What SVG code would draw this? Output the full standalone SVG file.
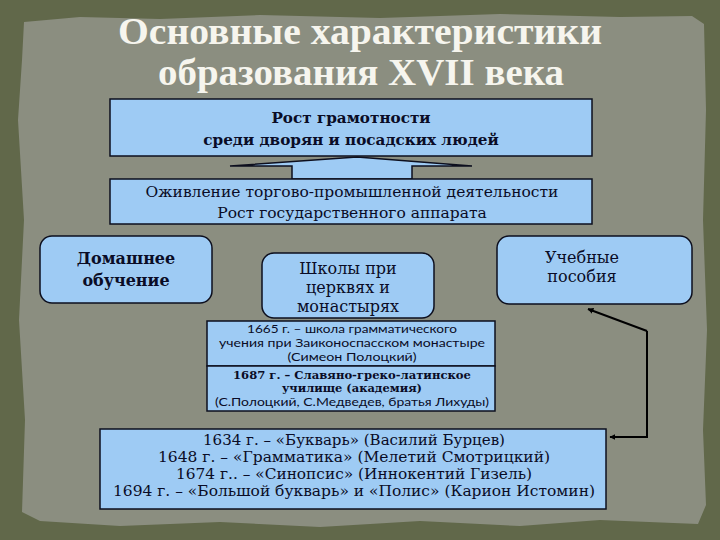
<svg xmlns="http://www.w3.org/2000/svg" width="720" height="540" viewBox="0 0 720 540">
<defs>
<style>
.box{fill:#9ecbf4;stroke:#0d0f1e;stroke-width:1.5}
.t{font-family:"DejaVu Serif","Liberation Serif",serif;fill:#0a0c26;text-anchor:middle}
.b{font-weight:bold}
.s{font-family:Lato,"Liberation Sans",sans-serif;fill:#0a0c26;text-anchor:middle}
.title{font-family:"Liberation Serif",serif;font-weight:bold;fill:#f6f5ee;text-anchor:middle;font-size:38px}
.con{fill:none;stroke:#000;stroke-width:2}
</style>
<marker id="ah" viewBox="0 0 10 10" refX="9" refY="5" markerWidth="6" markerHeight="6" orient="auto" markerUnits="userSpaceOnUse">
<path d="M0,0 L10,5 L0,10 Z" fill="#000"/>
</marker>
</defs>
<rect width="720" height="540" fill="#61684a"/>
<path d="M24,22 L80,17 L160,19 L260,15 L380,18 L500,14 L620,17 L692,16 L704,24 L706,110 L703,220 L707,330 L703,430 L706,505 L698,524 L600,520 L520,526 L420,521 L320,527 L220,522 L120,526 L40,521 L22,512 L25,420 L19,320 L24,220 L18,120 L22,60 Z" fill="#8b8e80"/>
<g id="title">
<text class="title" x="360" y="44" textLength="484" lengthAdjust="spacingAndGlyphs">Основные характеристики</text>
<text class="title" x="361" y="85" textLength="406" lengthAdjust="spacingAndGlyphs">образования XVII века</text>
</g>
<g id="connectors">
<path d="M230,166 L357,157 L472,166 L412,166 L412,179 L292,179 L292,166 Z" fill="#9ecbf4" stroke="#0d0f1e" stroke-width="1.5"/>
<path class="con" d="M647,331 L588,309" marker-end="url(#ah)"/>
<path class="con" d="M647,331 V437 H610" marker-end="url(#ah)"/>
</g>
<g id="n1">
<rect class="box" x="110" y="99" width="482" height="57"/>
<text class="t b" x="351" y="123" font-size="15.2">Рост грамотности</text>
<text class="t b" x="351" y="145" font-size="15.2">среди дворян и посадских людей</text>
</g>
<g id="n2">
<rect class="box" x="110" y="179" width="482" height="45"/>
<text class="t" x="352" y="197" font-size="15.5">Оживление торгово-промышленной деятельности</text>
<text class="t" x="352" y="218" font-size="15.5">Рост государственного аппарата</text>
</g>
<g id="n3">
<rect class="box" x="40" y="236" width="172" height="67" rx="12"/>
<text class="t b" x="126" y="264" font-size="16">Домашнее</text>
<text class="t b" x="126" y="286" font-size="16">обучение</text>
</g>
<g id="n4">
<rect class="box" x="262" y="253" width="172" height="65" rx="12"/>
<text class="t" x="348" y="274" font-size="16">Школы при</text>
<text class="t" x="348" y="293" font-size="16">церквях и</text>
<text class="t" x="348" y="312" font-size="16">монастырях</text>
</g>
<g id="n5">
<rect class="box" x="497" y="236" width="195" height="68" rx="12"/>
<text class="t" x="582" y="263" font-size="16">Учебные</text>
<text class="t" x="582" y="282" font-size="16">пособия</text>
</g>
<g id="n6">
<rect class="box" x="207" y="321" width="288" height="45"/>
<text class="s" x="352" y="333" font-size="12" textLength="210" lengthAdjust="spacingAndGlyphs">1665 г. – школа грамматического</text>
<text class="s" x="352" y="347" font-size="12" textLength="266" lengthAdjust="spacingAndGlyphs">учения при Заиконоспасском  монастыре</text>
<text class="s" x="352" y="361" font-size="12" textLength="129" lengthAdjust="spacingAndGlyphs">(Симеон Полоцкий)</text>
</g>
<g id="n7">
<rect class="box" x="207" y="366" width="288" height="45"/>
<text class="t b" x="352" y="379" font-size="11.5" textLength="238" lengthAdjust="spacingAndGlyphs">1687 г. – Славяно-греко-латинское</text>
<text class="t b" x="352" y="392" font-size="11.5" textLength="140" lengthAdjust="spacingAndGlyphs">училище (академия)</text>
<text class="s" x="352" y="406" font-size="12" textLength="274" lengthAdjust="spacingAndGlyphs">(С.Полоцкий, С.Медведев, братья Лихуды)</text>
</g>
<g id="n8">
<rect class="box" x="100" y="429" width="506" height="80"/>
<text class="t" x="354" y="445" font-size="14.6" textLength="302" lengthAdjust="spacingAndGlyphs">1634 г. – «Букварь» (Василий Бурцев)</text>
<text class="t" x="354" y="462" font-size="14.6" textLength="392" lengthAdjust="spacingAndGlyphs">1648 г. – «Грамматика» (Мелетий Смотрицкий)</text>
<text class="t" x="354" y="479" font-size="14.6" textLength="356" lengthAdjust="spacingAndGlyphs">1674 г.. – «Синопсис» (Иннокентий Гизель)</text>
<text class="t" x="354" y="496" font-size="14.6" textLength="482" lengthAdjust="spacingAndGlyphs">1694 г. – «Большой букварь» и «Полис» (Карион Истомин)</text>
</g>
</svg>
